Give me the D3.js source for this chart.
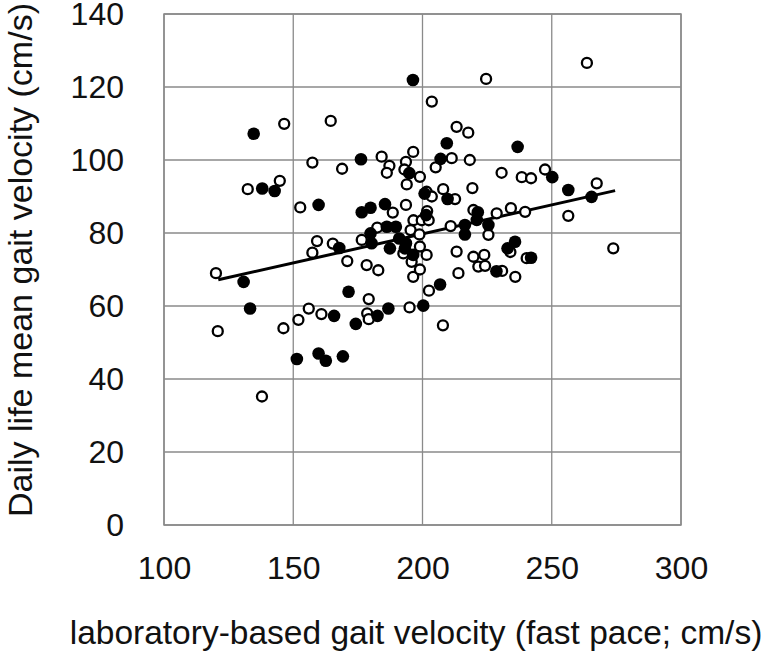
<!DOCTYPE html>
<html>
<head>
<meta charset="utf-8">
<script src="https://cdn.jsdelivr.net/npm/d3@7"></script>
<style>
  body { margin: 0; background: #fff; }
  text { font-family: Arial, "Liberation Sans", sans-serif; fill: #111; }
</style>
</head>
<body>
<div id="vis"></div>
<script>
// axis ticks
const xTicks = [100, 150, 200, 250, 300]
const yTicks = [0, 20, 40, 60, 80, 100, 120, 140]

// filled (black) subjects: lab velocity / daily-life velocity
const filledX = [134.7, 138.0, 142.8, 159.8, 176.2, 176.5, 179.9, 185.5, 186.2, 189.7,
  179.9, 180.3, 191.0, 193.6, 187.4, 193.2, 196.4, 194.9, 196.3, 200.8,
  201.4, 207.0, 209.4, 209.7, 216.4, 221.0, 221.4, 225.5, 216.4, 232.9,
  235.8, 242.0, 228.6, 236.8, 250.2, 256.4, 265.4, 130.8, 133.3, 165.8,
  171.4, 174.2, 182.6, 186.8, 200.3, 206.8, 151.4, 159.8, 162.6, 169.2,
  167.8]
const filledY = [107.2, 92.2, 91.5, 87.7, 100.2, 85.7, 86.9, 87.9, 81.7, 81.7,
  79.9, 77.2, 78.5, 77.2, 75.8, 75.8, 74.0, 96.4, 121.9, 90.8,
  84.9, 100.3, 104.6, 89.3, 82.2, 83.6, 85.7, 82.2, 79.6, 75.8,
  77.6, 73.2, 69.5, 103.6, 95.3, 91.8, 89.9, 66.6, 59.3, 57.3,
  63.9, 55.1, 57.3, 59.3, 60.1, 65.9, 45.5, 47.0, 45.0, 46.2,
  75.9]

// open (white) subjects
const openX = [120.1, 120.8, 132.4, 137.9, 144.8, 146.5, 146.2, 152.0, 152.7, 156.0,
  157.4, 157.4, 159.2, 160.9, 164.5, 165.3, 168.9, 170.9, 176.5, 178.4,
  178.6, 179.2, 179.2, 182.5, 182.9, 184.2, 187.2, 186.2, 188.5, 193.6,
  193.0, 193.9, 193.6, 196.4, 199.0, 195.4, 198.8, 196.5, 199.7, 202.4,
  201.6, 203.6, 199.0, 201.6, 192.6, 195.8, 196.4, 199.0, 195.0, 202.5,
  207.9, 203.6, 205.1, 208.0, 211.3, 212.6, 210.9, 213.2, 217.7, 218.3,
  219.3, 219.7, 213.2, 213.9, 219.7, 223.9, 221.6, 224.2, 225.5, 228.7,
  230.6, 230.8, 234.2, 235.9, 238.4, 239.7, 240.3, 242.0, 247.4, 224.6,
  263.6, 256.4, 267.4, 273.8, 234.0, 201.8]
const openY = [69.0, 53.1, 92.0, 35.2, 94.3, 109.9, 53.9, 56.2, 87.0, 59.3,
  99.3, 74.6, 77.8, 57.8, 110.7, 77.1, 97.6, 72.3, 78.1, 71.2,
  58.0, 61.9, 56.4, 81.5, 69.8, 100.9, 98.4, 96.5, 85.6, 99.5,
  97.4, 93.3, 87.7, 102.2, 95.4, 80.8, 79.6, 83.5, 83.5, 83.5,
  91.3, 90.0, 76.3, 74.0, 74.4, 72.1, 68.0, 70.0, 59.6, 64.2,
  54.7, 116.0, 98.0, 92.0, 100.5, 89.3, 81.9, 109.1, 107.5, 100.0,
  92.3, 86.3, 74.9, 69.0, 73.5, 74.0, 70.8, 71.0, 79.5, 85.4,
  96.5, 69.6, 86.8, 68.0, 95.3, 85.8, 73.1, 95.0, 97.4, 122.2,
  126.6, 84.7, 93.6, 75.8, 74.8, 86.0]

// regression line end points as drawn
const fitX = [121.0, 274.5]
const fitY = [67.2, 91.6]

const W = 767, H = 654
const margin = {left: 164, top: 14, right: 86, bottom: 129}
const width = W - margin.left - margin.right
const height = H - margin.top - margin.bottom

const svg = d3.select('#vis').append('svg')
    .attr('width', W)
    .attr('height', H)

const x = d3.scaleLinear().domain([100, 300]).range([margin.left, margin.left + width])
const y = d3.scaleLinear().domain([0, 140]).range([margin.top + height, margin.top])

// grid
svg.append('g')
    .selectAll('line')
    .data(xTicks)
    .join('line')
        .attr('x1', d => x(d)).attr('x2', d => x(d))
        .attr('y1', y(0)).attr('y2', y(140))
        .attr('stroke', '#8a8a8a')
        .attr('stroke-width', 1.3)

svg.append('g')
    .selectAll('line')
    .data(yTicks)
    .join('line')
        .attr('x1', x(100)).attr('x2', x(300))
        .attr('y1', d => y(d)).attr('y2', d => y(d))
        .attr('stroke', '#8a8a8a')
        .attr('stroke-width', 1.3)

// tick labels
let yAxis = d3.axisLeft(y).tickValues(yTicks).tickSize(0).tickPadding(40)
svg.append('g')
    .attr('transform', `translate(${margin.left},0)`)
    .call(yAxis)
    .call(g => g.select('.domain').remove())
    .selectAll('text')
        .attr('font-size', '32px')
        .attr('font-family', 'Arial, Liberation Sans, sans-serif')
        .attr('fill', '#111')

let xAxis = d3.axisBottom(x).tickValues(xTicks).tickSize(0).tickPadding(31)
svg.append('g')
    .attr('transform', `translate(0,${y(0)})`)
    .call(xAxis)
    .call(g => g.select('.domain').remove())
    .selectAll('text')
        .attr('font-size', '32px')
        .attr('font-family', 'Arial, Liberation Sans, sans-serif')
        .attr('fill', '#111')

// axis titles
svg.append('text')
    .attr('x', 416)
    .attr('y', 644)
    .attr('text-anchor', 'middle')
    .attr('font-size', '33.5px')
    .text('laboratory-based gait velocity (fast pace; cm/s)')

svg.append('text')
    .attr('transform', `translate(32,${260}) rotate(-90)`)
    .attr('text-anchor', 'middle')
    .attr('font-size', '34px')
    .text('Daily life mean gait velocity (cm/s)')

// regression line
svg.append('line')
    .attr('x1', x(fitX[0])).attr('y1', y(fitY[0]))
    .attr('x2', x(fitX[1])).attr('y2', y(fitY[1]))
    .attr('stroke', '#000')
    .attr('stroke-width', 3)

// open circles
svg.append('g')
    .selectAll('circle')
    .data(openX)
    .join('circle')
        .attr('cx', d => x(d))
        .attr('cy', (d, i) => y(openY[i]))
        .attr('r', 5)
        .attr('fill', '#fff')
        .attr('stroke', '#000')
        .attr('stroke-width', 2.3)

// filled circles
svg.append('g')
    .selectAll('circle')
    .data(filledX)
    .join('circle')
        .attr('cx', d => x(d))
        .attr('cy', (d, i) => y(filledY[i]))
        .attr('r', 6.3)
        .attr('fill', '#000')

// plot border
svg.append('rect')
    .attr('x', x(100)).attr('y', y(140))
    .attr('width', width).attr('height', height)
    .attr('fill', 'none')
    .attr('stroke', '#8a8a8a')
    .attr('stroke-width', 1.5)
</script>
</body>
</html>
